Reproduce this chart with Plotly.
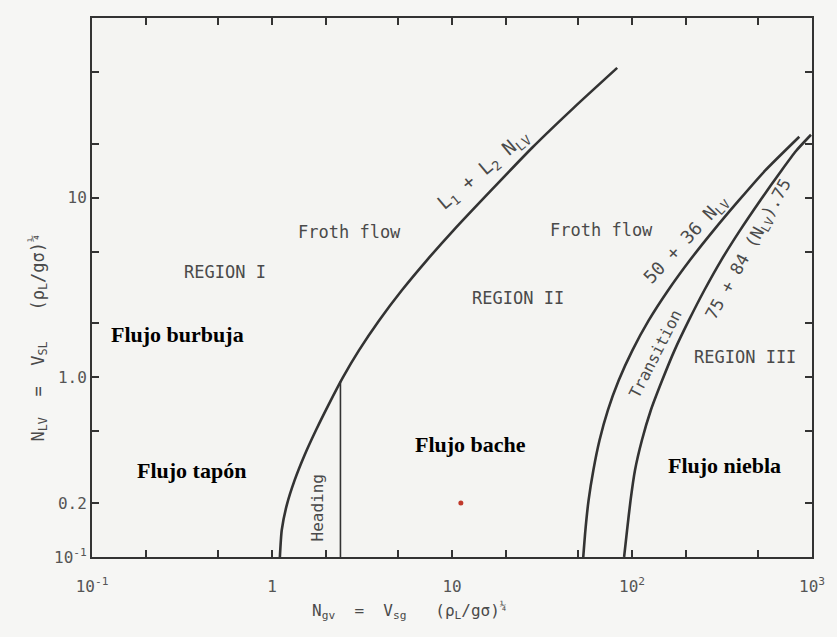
import plotly.graph_objects as go

# ---- data (log-log chart) ----
# Boundary L1 + L2*N_LV (bubble/slug vs. region II)
c1_x = [1.106, 1.133, 1.208, 1.336, 1.516, 1.754, 2.054, 2.477, 3.041, 3.936, 5.253,
        7.224, 10.16, 16.44, 27.87, 47.41, 82.72]
c1_y = [0.100, 0.1413, 0.1945, 0.2678, 0.3686, 0.5076, 0.6988, 1.000, 1.413, 2.073, 3.043,
        4.467, 6.557, 10.94, 18.96, 31.62, 52.75]
# Boundary 50 + 36*N_LV
c2_x = [53.6, 55.1, 57.4, 61.0, 66.0, 73.4, 84.4, 100.5, 123.8, 158.5, 209.1,
        283.3, 391.2, 548.3, 850.0]
c2_y = [0.100, 0.1413, 0.2073, 0.3042, 0.4467, 0.6556, 0.9624, 1.413, 2.073, 3.043, 4.467,
        6.557, 9.624, 14.13, 21.83]
# Boundary 75 + 84*N_LV^0.75
c3_x = [90.4, 93.9, 98.2, 103.9, 113.5, 127.2, 147.1, 172.3, 206.8, 251.8, 312.3,
        397.2, 514.6, 675.6, 817.0, 987.4]
c3_y = [0.100, 0.1413, 0.2073, 0.3042, 0.4467, 0.6556, 0.9624, 1.413, 2.073, 3.043, 4.467,
        6.557, 9.624, 14.13, 18.24, 22.39]
# "Heading" vertical line
head_x = [2.4, 2.4]
head_y = [0.10, 0.95]
# red point
pt_x = [11.2]
pt_y = [0.20]

x_tickvals = [0.1, 0.2, 0.5, 1, 2, 5, 10, 20, 50, 100, 200, 500, 1000]
x_ticktext = ["10<sup>-1</sup>", "", "", "1", "", "", "10", "", "", "10<sup>2</sup>", "", "", "10<sup>3</sup>"]
y_tickvals = [0.1, 0.2, 0.5, 1, 2, 5, 10, 20, 50]
y_ticktext = ["10<sup>-1</sup>", "0.2", "", "1.0", "", "", "10", "", ""]

LINE = "#333333"
TXT = "#4a4a4a"
MONO = "DejaVu Sans Mono"
SERIF = "Liberation Serif"

fig = go.Figure()
for xs, ys in [(c1_x, c1_y), (c2_x, c2_y), (c3_x, c3_y)]:
    fig.add_trace(go.Scatter(x=xs, y=ys, mode="lines", line=dict(color=LINE, width=2.6, shape="spline", smoothing=0.6),
                             showlegend=False, hoverinfo="skip"))
fig.add_trace(go.Scatter(x=head_x, y=head_y, mode="lines", line=dict(color=LINE, width=1.6), showlegend=False))
fig.add_trace(go.Scatter(x=pt_x, y=pt_y, mode="markers", marker=dict(color="#c0392b", size=5), showlegend=False))

L, R, T, B = 92, 820, 18, 557


def P(px, py):
    return (px - L) / (R - L), (B - py) / (B - T)


def txt(text, px, py, size=17, font=MONO, color=TXT, angle=0, bold=False):
    x, y = P(px, py)
    if bold:
        text = "<b>" + text + "</b>"
    fig.add_annotation(x=x, y=y, xref="paper", yref="paper", text=text, showarrow=False,
                       textangle=angle, font=dict(family=font, size=size, color=color),
                       xanchor="center", yanchor="middle")


txt("Froth flow", 352, 232)
txt("Froth flow", 607, 230)
txt("REGION I", 226, 272)
txt("REGION II", 523, 298)
txt("REGION III", 752, 357)
txt("Heading", 320, 508, size=16, angle=-90)
txt("Transition", 661, 354, size=16, angle=-63)
txt("L<sub>1</sub> + L<sub>2</sub> N<sub>LV</sub>", 488, 171, size=19, angle=-40)
txt("50 + 36 N<sub>LV</sub>", 693, 240, size=18, angle=-47)
txt("75 + 84 (N<sub>LV</sub>).75", 757, 250, size=17, angle=-61)

txt("Flujo burbuja", 178, 334, size=22, font=SERIF, color="#000000", bold=True)
txt("Flujo tapón", 193, 470, size=22, font=SERIF, color="#000000", bold=True)
txt("Flujo bache", 475, 445, size=22, font=SERIF, color="#000000", bold=True)
txt("Flujo niebla", 732, 465, size=22, font=SERIF, color="#000000", bold=True)

# axis titles
txt("N<sub>LV</sub>  =  V<sub>SL</sub>   (ρ<sub>L</sub>/gσ)<sup>¼</sup>", 37, 338, size=17, angle=-90)
txt("N<sub>gv</sub>  =  V<sub>sg</sub>   (ρ<sub>L</sub>/gσ)<sup>¼</sup>", 413, 610, size=16)

axis_common = dict(type="log", showgrid=False, zeroline=False, showline=True, linecolor=LINE, linewidth=2,
                   mirror="ticks", ticks="inside", ticklen=7, tickwidth=1.5, tickcolor=LINE,
                   tickfont=dict(family=MONO, size=16, color="#555555"))

fig.update_xaxes(range=[-1, 3], tickmode="array", tickvals=x_tickvals, ticktext=x_ticktext,
                 ticklabelstandoff=14, **axis_common)
fig.update_yaxes(range=[-1, 2], tickmode="array", tickvals=y_tickvals, ticktext=y_ticktext,
                 **axis_common)

fig.update_layout(width=837, height=637, margin=dict(l=L, r=837 - R, t=T, b=637 - B),
                  paper_bgcolor="#f6f6f4", plot_bgcolor="#f4f4f2", showlegend=False)

fig.write_html("out.html")
